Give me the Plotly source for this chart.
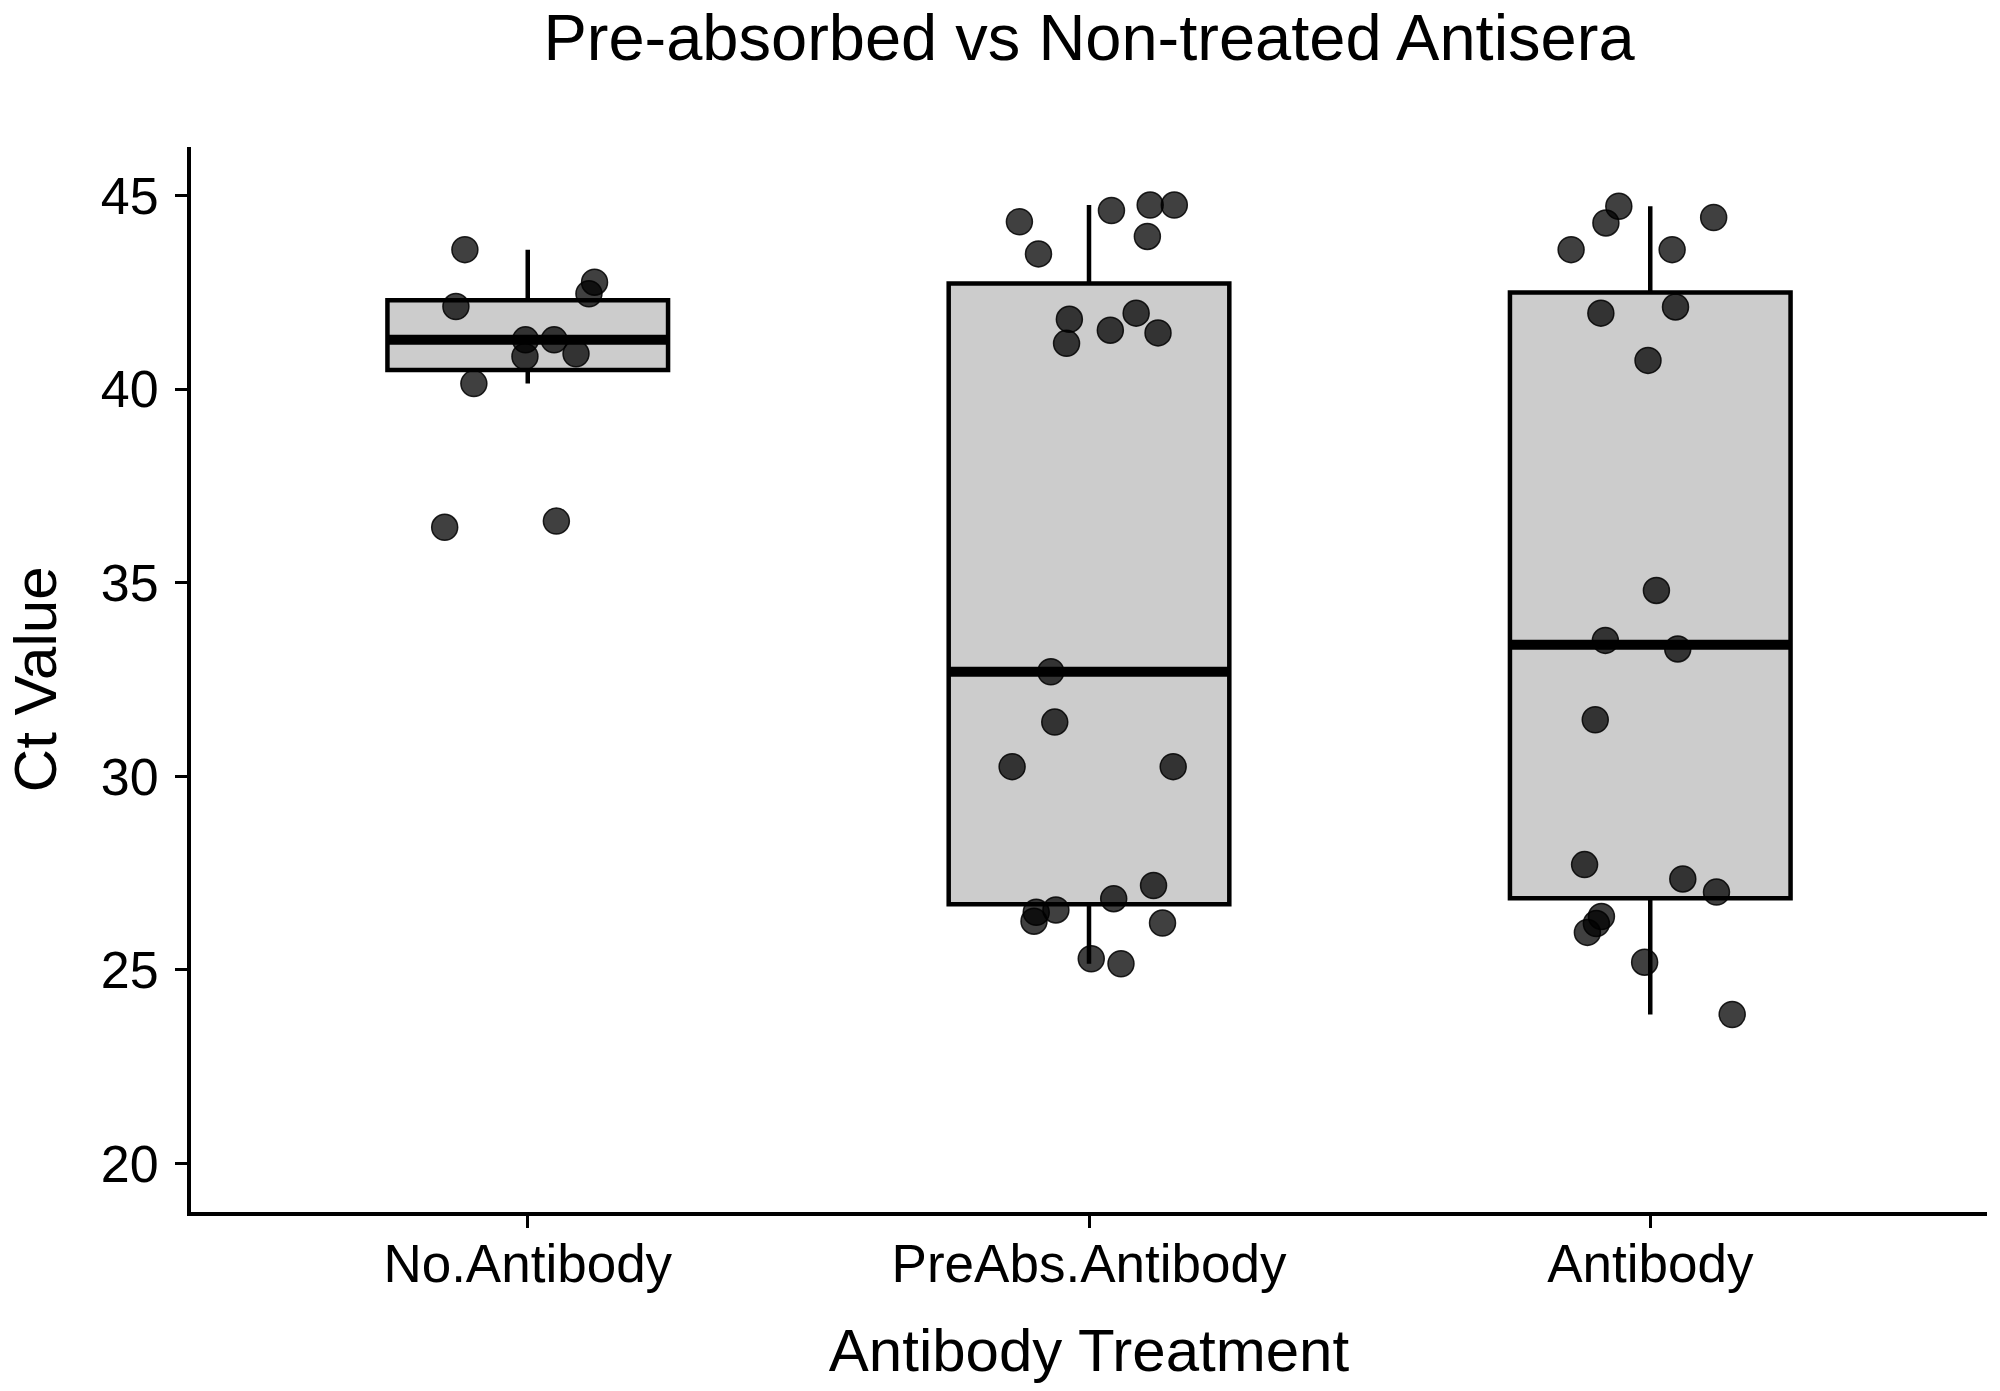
import numpy as np
import plotly.graph_objects as go

# ---------------- data ----------------
categories = ["No.Antibody", "PreAbs.Antibody", "Antibody"]

no_antibody_ct = [43.60, 42.13, 42.76, 42.46, 41.27, 41.27, 40.84, 40.91, 40.14, 36.43, 36.59]
no_antibody_jitter = [-0.112, -0.128, 0.119, 0.109, -0.004, 0.047, -0.005, 0.086, -0.096, -0.148, 0.051]

preabs_antibody_ct = [44.32, 43.49, 44.61, 44.75, 44.75, 43.94, 41.80, 41.18, 41.52, 41.96, 41.45,
                      32.70, 31.40, 30.25, 30.25, 27.18, 26.84, 26.55, 26.49, 26.26, 26.21, 25.29, 25.16]
preabs_antibody_jitter = [-0.124, -0.090, 0.040, 0.109, 0.152, 0.104, -0.035, -0.040, 0.038, 0.084, 0.123,
                          -0.068, -0.061, -0.137, 0.150, 0.115, 0.044, -0.059, -0.094, -0.098, 0.131, 0.004, 0.057]

antibody_ct = [44.72, 44.29, 43.60, 44.43, 43.60, 41.96, 42.12, 40.74, 34.80, 33.51, 33.29, 31.46,
               27.72, 27.35, 27.01, 26.38, 26.20, 25.97, 25.20, 23.85]
antibody_jitter = [-0.056, -0.079, -0.141, 0.113, 0.039, -0.088, 0.045, -0.004, 0.011, -0.080, 0.049, -0.098,
                   -0.117, 0.058, 0.118, -0.087, -0.096, -0.112, -0.010, 0.146]

y_ticks = [20, 25, 30, 35, 40, 45]

groups_ct = [no_antibody_ct, preabs_antibody_ct, antibody_ct]
groups_jitter = [no_antibody_jitter, preabs_antibody_jitter, antibody_jitter]

# ---------------- styling ----------------
FONT = "Liberation Sans, Arial, sans-serif"
BOX_FILL = "#cccccc"
BOX_WIDTH = 0.5
LINE_W = 4.5
MEDIAN_W = 10

fig = go.Figure()

# boxes (statistics computed like ggplot2: type-7 quantiles, 1.5*IQR whiskers)
for i, vals in enumerate(groups_ct):
    v = np.array(vals)
    q1, med, q3 = np.percentile(v, [25, 50, 75])
    iqr = q3 - q1
    lo = v[v >= q1 - 1.5 * iqr].min()
    hi = v[v <= q3 + 1.5 * iqr].max()
    fig.add_trace(go.Box(
        x=[i], q1=[q1], median=[med], q3=[q3], lowerfence=[lo], upperfence=[hi],
        width=BOX_WIDTH, fillcolor=BOX_FILL, whiskerwidth=0,
        line=dict(color="black", width=LINE_W),
        boxpoints=False, showlegend=False, hoverinfo="skip",
    ))

# thick median bars (ggplot fatten = 2)
for i, vals in enumerate(groups_ct):
    med = float(np.median(vals))
    fig.add_trace(go.Scatter(
        x=[i - BOX_WIDTH / 2, i + BOX_WIDTH / 2], y=[med, med], mode="lines",
        line=dict(color="black", width=MEDIAN_W), showlegend=False, hoverinfo="skip",
    ))

# jittered points
for i, (vals, jit) in enumerate(zip(groups_ct, groups_jitter)):
    fig.add_trace(go.Scatter(
        x=[i + j for j in jit], y=vals, mode="markers",
        marker=dict(size=26, color="rgba(0,0,0,0.75)",
                    line=dict(color="rgba(0,0,0,0.85)", width=1.5)),
        showlegend=False, name=categories[i],
    ))

fig.update_layout(
    width=2000, height=1391,
    paper_bgcolor="white", plot_bgcolor="white",
    margin=dict(l=183, r=21, t=139, b=187, autoexpand=False),
    font=dict(family=FONT, color="black"),
    title=dict(text="Pre-absorbed vs Non-treated Antisera", x=0.5, xref="paper",
               xanchor="center", y=1 - 29 / 1391, yanchor="middle",
               font=dict(size=65, family=FONT, color="black")),
    xaxis=dict(
        range=[-0.6, 2.6], tickmode="array", tickvals=list(range(len(categories))),
        ticktext=categories, showgrid=False, zeroline=False, automargin=False,
        showline=True, linecolor="black", linewidth=4,
        ticks="outside", ticklen=12, tickwidth=2.5, tickcolor="black",
        ticklabelstandoff=-10,
        tickfont=dict(size=53, family=FONT, color="black"),
        title=dict(text="Antibody Treatment", standoff=38,
                   font=dict(size=60, family=FONT, color="black")),
    ),
    yaxis=dict(
        range=[18.75, 46.25], tickmode="array", tickvals=y_ticks,
        showgrid=False, zeroline=False, automargin=False,
        showline=True, linecolor="black", linewidth=4,
        ticks="outside", ticklen=12, tickwidth=2.5, tickcolor="black",
        ticklabelstandoff=6,
        tickfont=dict(size=52, family=FONT, color="black"),
    ),
    annotations=[dict(
        text="Ct Value", textangle=-90, showarrow=False,
        xref="paper", yref="paper", x=-0.0865, y=0.5,
        xanchor="center", yanchor="middle",
        font=dict(size=60, family=FONT, color="black"),
    )],
)

fig.write_html("out.html")
